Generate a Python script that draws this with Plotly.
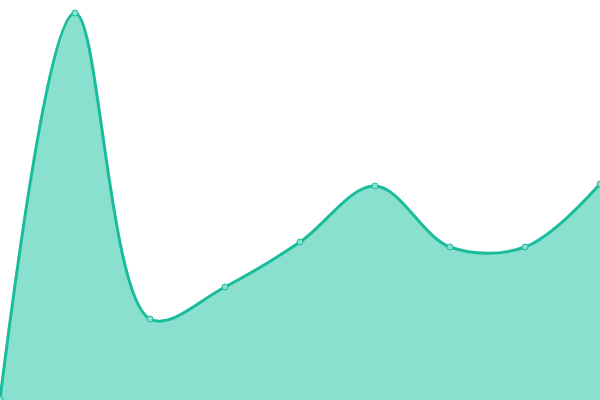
import plotly.graph_objects as go

x_vals = [0, 1, 2, 3, 4, 5, 6, 7, 8]
y_vals = [1, 387, 81, 113, 158, 214, 153, 153, 216]

fig = go.Figure()

fig.add_trace(go.Scatter(
    x=x_vals,
    y=y_vals,
    mode="lines+markers",
    line=dict(color="#1abc9c", width=3, shape="spline", smoothing=1),
    marker=dict(size=6, color="#8ae0ce", line=dict(color="#1abc9c", width=1)),
    fill="tozeroy",
    fillcolor="#8ae0ce",
    showlegend=False,
    cliponaxis=False,
))

fig.update_layout(
    width=600, height=400,
    margin=dict(l=0, r=0, t=0, b=0),
    paper_bgcolor="white",
    plot_bgcolor="white",
    xaxis=dict(range=[0, 8], visible=False),
    yaxis=dict(range=[0, 400], visible=False),
)

# page body has a default margin, drop it so the chart fills the window
fig.write_html(
    "out.html",
    config={"displayModeBar": False},
    post_script="document.body.style.margin='0';document.body.style.overflow='hidden';",
)
